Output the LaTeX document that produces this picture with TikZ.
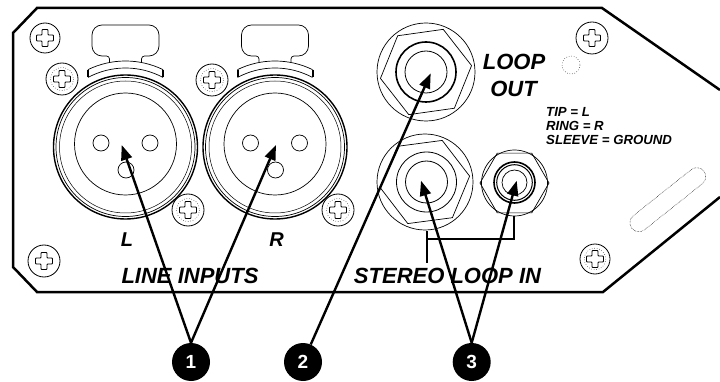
\documentclass[tikz,border=0pt]{standalone}
\usepackage{fontspec}
\setmainfont{Liberation Sans}
\usetikzlibrary{arrows.meta}
\tikzset{
  thinl/.style={line width=0.7pt},
  panel/.style={line width=2.5pt, line join=miter},
  lbl/.style={font=\fontsize{22}{24}\selectfont\bfseries\itshape, inner sep=0pt},
  lblsm/.style={font=\fontsize{20}{22}\selectfont\bfseries\itshape, inner sep=0pt},
  note/.style={font=\fontsize{13.2}{14}\selectfont\bfseries\itshape, inner sep=0pt, anchor=west},
  callout/.style={circle, fill=black, minimum size=38pt, inner sep=0pt, text=white, font=\fontsize{19}{20}\selectfont\bfseries},
  arr/.style={line width=2.4pt, -{Triangle[length=15pt,width=11pt]}},
  crossp/.style={line width=0.8pt, rounded corners=0.8pt},
  pics/screwp/.style={code={
    \draw[line width=0.8pt] (0,0) circle (#1);
    \draw[crossp] (-3,-8.5) -- (3,-8.5) -- (3,-3) -- (8.5,-3) -- (8.5,3) -- (3,3) -- (3,8.5) -- (-3,8.5) -- (-3,3) -- (-8.5,3) -- (-8.5,-3) -- (-3,-3) -- cycle;
  }},
  pics/screwd/.style={code={
    \draw[line width=0.8pt] (0,0) circle (#1);
    \draw[line width=0.5pt, dotted] (0,0) circle ({#1*0.72});
    \draw[crossp] (-3,-8.5) -- (3,-8.5) -- (3,-3) -- (8.5,-3) -- (8.5,3) -- (3,3) -- (3,8.5) -- (-3,8.5) -- (-3,3) -- (-8.5,3) -- (-8.5,-3) -- (-3,-3) -- cycle;
  }},
  pics/xlr/.style={code={
    \draw[line width=1.4pt] (0,0) circle (72);
    \draw[line width=0.7pt] (0,0) circle (69.5);
    \draw[line width=0.5pt] (0,0) circle (66);
    \draw[thinl] (0,-3) circle (51);
    \draw[thinl] (-24.5,-4) circle (8);
    \draw[thinl] (24.5,-4) circle (8);
    \draw[thinl] (0.5,23) circle (8);
    \draw[thinl] (244.15:86) arc[start angle=244.15, end angle=295.85, radius=86];
    \draw[thinl] (241.66:79) arc[start angle=241.66, end angle=298.34, radius=79];
    \draw[line width=2pt] (-37.5,-77.4) -- (-37.5,-69.5);
    \draw[line width=2pt] (37.5,-77.4) -- (37.5,-69.5);
    \draw[thinl] (-16,-84.5) [rounded corners=3] -- (-16,-91) [rounded corners=10] -- (-33.5,-91) -- (-33.5,-122) -- (33.5,-122) -- (33.5,-91) [rounded corners=3] -- (16,-91) -- (16,-84.5);
  }}
}
\begin{document}
\begin{tikzpicture}[x=1pt,y=-1pt]
\fill[white] (0,0) rectangle (720,382);
\useasboundingbox (0,0) rectangle (720,382);

% panel outline
\draw[panel] (720,90) -- (602,8) -- (37,8) -- (13,33) -- (13,267) -- (37,292) -- (603,292) -- (720,197);

% screws
\pic at (45,38) {screwp=15};
\pic at (62,79) {screwd=16};
\pic at (212,80) {screwd=16};
\pic at (188,210) {screwd=16};
\pic at (338,210) {screwd=16};
\pic at (44,261) {screwp=16};
\pic at (592,38) {screwp=16};
\pic at (595,259) {screwd=15};

% XLR connectors
\pic at (125.5,147) {xlr};
\pic at (275,147) {xlr};

% LOOP OUT jack
\begin{scope}[shift={(426,72)}]
  \draw[thinl] (0,0) circle (49);
  \draw[thinl] (-8:46) -- (52:46) -- (112:46) -- (172:46) -- (232:46) -- (292:46) -- cycle;
  \draw[line width=1.6pt] (0,0) circle (30);
  \draw[line width=0.8pt] (0,0) circle (21);
\end{scope}

% STEREO LOOP IN big jack
\begin{scope}[shift={(425,182)}]
  \draw[thinl] (0,0) circle (48);
  \draw[thinl] (-7.5:45) -- (52.5:45) -- (112.5:45) -- (172.5:45) -- (232.5:45) -- (292.5:45) -- cycle;
  \draw[line width=0.8pt] (1.5,0) circle (30);
  \draw[line width=0.8pt] (1.5,0) circle (21);
\end{scope}

% small jack
\begin{scope}[shift={(514.5,183)}]
  \draw[thinl] (0,0) circle (33);
  \draw[thinl] (0:34.5) -- (60:34.5) -- (120:34.5) -- (180:34.5) -- (240:34.5) -- (300:34.5) -- cycle;
  \draw[line width=1.6pt] (0,-0.5) circle (20.5);
  \draw[line width=1pt] (0,-0.5) circle (17.8);
  \draw[line width=0.7pt] (0,-0.5) circle (12.5);
\end{scope}

% bracket
\draw[line width=1.2pt] (427,231) -- (427,263);
\draw[line width=1.2pt] (427,239) -- (514,239) -- (514,216);

% dotted features
\draw[line width=0.5pt, dotted] (571,65) circle (9);
\draw[line width=0.5pt, densely dotted, rounded corners=9pt, rotate around={38.5:(667.85,199.7)}] (621.85,190.7) rectangle (713.85,208.7);

% labels
\node[lblsm] (labL) at (127,240) {L};
\node[lblsm] (labR) at (276.5,240) {R};
\node[lbl] (labLI) at (190,276) {LINE INPUTS};
\node[lbl] (labSL) at (447.5,275.5) {STEREO LOOP IN};
\node[lbl] (labLO1) at (514,61.5) {LOOP};
\node[lbl] (labLO2) at (513.5,88.5) {OUT};
\node[note] (n1) at (546,112) {TIP = L};
\node[note] (n2) at (546,125.5) {RING = R};
\node[note] (n3) at (546,140) {SLEEVE = GROUND};

% arrow targets
\coordinate (aL) at (121.7,145);
\coordinate (aR) at (276,145);
\coordinate (aLO) at (430.7,73.3);
\coordinate (aSL) at (421,180.7);
\coordinate (aSS) at (516.7,180.7);

% callouts
\node[callout] (c1) at (191,362) {1};
\node[callout] (c2) at (303,362) {2};
\node[callout] (c3) at (471.7,362) {3};

\draw[arr] (c1.north) -- (aL);
\draw[arr] (c1.north) -- (aR);
\draw[arr] (c2) -- (aLO);
\draw[arr] (c3.north) -- (aSL);
\draw[arr] (c3.north) -- (aSS);
\end{tikzpicture}
\end{document}
